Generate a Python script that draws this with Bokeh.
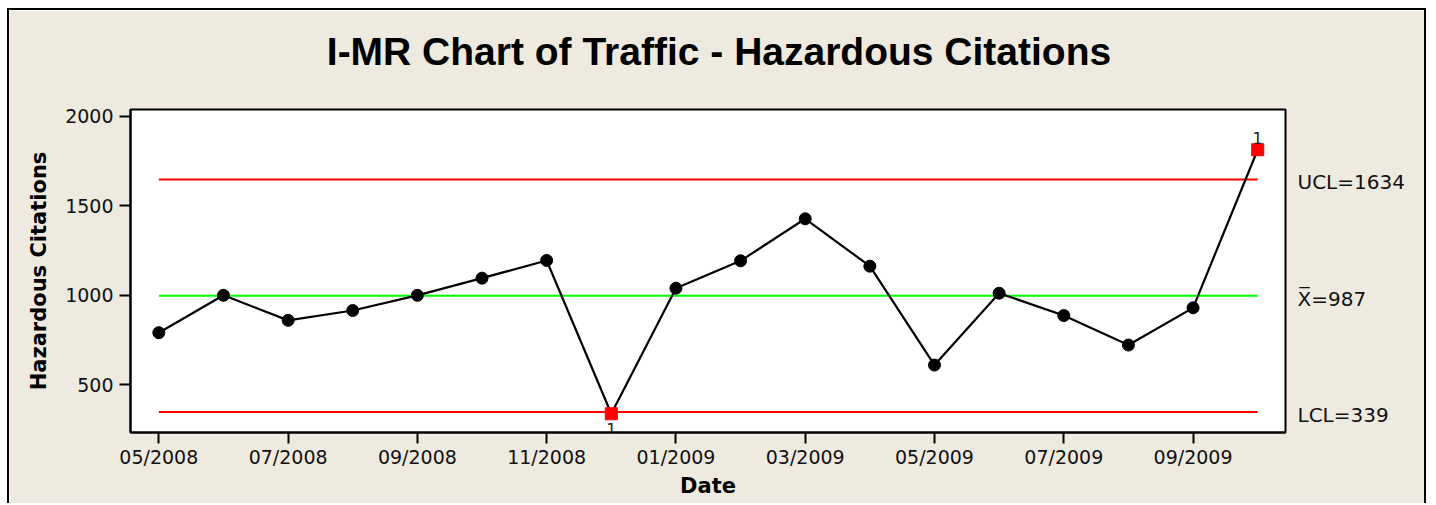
from bokeh.plotting import figure
from bokeh.models import LabelSet, ColumnDataSource, FixedTicker, Range1d, LinearAxis
from bokeh.core.properties import value
from bokeh.embed import file_html
from bokeh.resources import INLINE

# ---- data ----
dates = ["05/2008", "06/2008", "07/2008", "08/2008", "09/2008", "10/2008",
         "11/2008", "12/2008", "01/2009", "02/2009", "03/2009", "04/2009",
         "05/2009", "06/2009", "07/2009", "08/2009", "09/2009", "10/2009"]
citations = [791, 1000, 860, 915, 1000, 1096, 1195, 338, 1040, 1193, 1428,
             1163, 610, 1012, 887, 722, 930, 1814]
ucl = 1648
center = 998
lcl = 347
limit_labels = ["UCL=1634", "X\u0305=987", "LCL=339"]
y_ticks = [500, 1000, 1500, 2000]
title_text = "I-MR Chart of Traffic - Hazardous Citations"

idx = list(range(len(dates)))
tick_idx = idx[::2]

BG = "#EEEAE0"
X0, X1 = -0.438, 17.43
Y0, Y1 = 233, 2039
p = figure(width=1419, height=495, title=None,
           x_range=Range1d(X0, X1), y_range=Range1d(Y0, Y1),
           output_backend="svg", toolbar_location=None,
           background_fill_color="white", border_fill_color=BG,
           min_border_left=121, min_border_right=143,
           min_border_top=99, min_border_bottom=73)
p.styles = {"margin-left": "7px", "margin-top": "8px",
            "border-top": "2px solid black", "border-left": "2px solid black",
            "border-right": "2px solid black"}
p.grid.visible = False
p.outline_line_color = "black"
p.outline_line_width = 2

# control lines
x_ends = [idx[0], idx[-1]]
p.line(x_ends, [ucl, ucl], line_color="#FF0000", line_width=2)
p.line(x_ends, [lcl, lcl], line_color="#FF0000", line_width=2)
p.line(x_ends, [center, center], line_color="#00FF00", line_width=2)

# data
p.line(idx, citations, line_color="black", line_width=2.2)
in_x = [i for i, v in zip(idx, citations) if lcl <= v <= ucl]
in_y = [v for v in citations if lcl <= v <= ucl]
p.scatter(in_x, in_y, marker="circle", size=12, fill_color="black", line_color="black")
hi = ColumnDataSource(dict(x=[i for i, v in zip(idx, citations) if v > ucl],
                           y=[v for v in citations if v > ucl]))
lo = ColumnDataSource(dict(x=[i for i, v in zip(idx, citations) if v < lcl],
                           y=[v for v in citations if v < lcl]))
hi.data["t"] = ["1"] * len(hi.data["x"])
lo.data["t"] = ["1"] * len(lo.data["x"])
for src in (hi, lo):
    p.scatter("x", "y", source=src, marker="square", size=12,
              fill_color="#FF0000", line_color="#FF0000")
p.add_layout(LabelSet(x="x", y="y", text="t", source=hi, text_align="center",
                      text_baseline="alphabetic", y_offset=6,
                      text_font=value("DejaVu Sans"), text_font_size="16px",
                      text_color="#222222"))
p.add_layout(LabelSet(x="x", y="y", text="t", source=lo, text_align="center",
                      text_baseline="top", y_offset=-9,
                      text_font=value("DejaVu Sans"), text_font_size="16px",
                      text_color="#222222"))

# axes (left / bottom)
left_axis = p.yaxis[0]
bottom_axis = p.xaxis[0]
bottom_axis.ticker = FixedTicker(ticks=tick_idx)
bottom_axis.major_label_overrides = {i: dates[i] for i in tick_idx}
left_axis.ticker = FixedTicker(ticks=y_ticks)
bottom_axis.axis_label = "Date"
left_axis.axis_label = "Hazardous Citations"
for ax in (bottom_axis, left_axis):
    ax.axis_line_color = "black"
    ax.axis_line_width = 2
    ax.major_tick_line_color = "black"
    ax.major_tick_line_width = 2
    ax.major_tick_out = 11
    ax.major_tick_in = 0
    ax.minor_tick_line_color = None
    ax.major_label_text_font = "DejaVu Sans"
    ax.major_label_text_font_size = "19px"
    ax.major_label_text_color = "#111111"
    ax.axis_label_text_font = "DejaVu Sans"
    ax.axis_label_text_font_style = "bold"
    ax.axis_label_text_font_size = "21px"
    ax.axis_label_text_color = "black"
bottom_axis.major_label_standoff = 2
left_axis.major_label_standoff = 6
bottom_axis.axis_label_standoff = 3
left_axis.axis_label_standoff = 11

# limit labels on the right (axis with ticks at the limits, shifted ~3px down)
shift = 17
p.extra_y_ranges = {"lim": Range1d(Y0 + shift, Y1 + shift)}
lim_ticks = [ucl, center, lcl]
lim_axis = LinearAxis(y_range_name="lim",
                      ticker=FixedTicker(ticks=lim_ticks),
                      major_label_overrides=dict(zip(lim_ticks, limit_labels)))
lim_axis.axis_line_color = None
lim_axis.major_tick_line_color = None
lim_axis.minor_tick_line_color = None
lim_axis.major_tick_out = 0
lim_axis.major_tick_in = 0
lim_axis.major_label_standoff = 12
lim_axis.major_label_text_font = "DejaVu Sans"
lim_axis.major_label_text_font_size = "20px"
lim_axis.major_label_text_color = "#111111"
p.add_layout(lim_axis, "right")

# title: centred on the whole figure (extra x range with 0 at the figure centre)
fw = 1155.0  # frame width in px
left_px, right_px = 121.0, 143.0
c_px = (left_px + fw + right_px) / 2 - left_px   # figure centre, relative to frame
p.extra_x_ranges = {"ttl": Range1d(-c_px, fw - c_px)}
title_axis = LinearAxis(x_range_name="ttl", ticker=FixedTicker(ticks=[0]),
                        major_label_overrides={0: title_text})
title_axis.axis_line_color = None
title_axis.major_tick_line_color = None
title_axis.minor_tick_line_color = None
title_axis.major_tick_out = 0
title_axis.major_tick_in = 0
title_axis.major_label_standoff = 37
title_axis.major_label_text_font = "Liberation Sans"
title_axis.major_label_text_font_style = "bold"
title_axis.major_label_text_font_size = "39px"
title_axis.major_label_text_color = "black"
p.add_layout(title_axis, "above")

open("out.html", "w").write(file_html(p, INLINE))
